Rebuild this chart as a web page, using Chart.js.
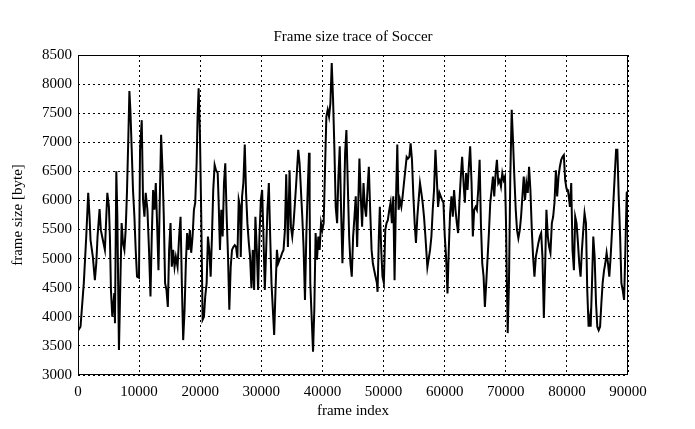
<!DOCTYPE html>
<html>
<head>
<meta charset="utf-8">
<script src="https://cdn.jsdelivr.net/npm/chart.js@4.4.1/dist/chart.umd.min.js"></script>
<style>
  body { margin: 0; background: #fff; }
  #box { width: 695px; height: 429px; }
</style>
</head>
<body>
<div id="box"><canvas id="chart" width="695" height="429"></canvas></div>
<script>
// frame index / frame size pairs
const frameIndex = [
  0, 410, 950, 1350, 1670, 1890, 2050, 2430, 2760, 2990, 3200, 3530, 3740, 4070, 4400, 4630, 4800, 5060, 5220, 5390,
  5610, 5940, 6050, 6270, 6440, 6700, 6930, 7140, 7360, 7590, 7800, 8010, 8240, 8410, 8570, 8790, 9000, 9230, 9440, 9660,
  9980, 10150, 10430, 10640, 10870, 11080, 11360, 11620, 11860, 12070, 12290, 12510, 12730, 12940, 13170, 13380, 13600, 13830, 14040, 14250,
  14480, 14700, 14910, 15140, 15350, 15570, 15800, 16010, 16290, 16550, 16780, 16990, 17210, 17440, 17650, 17860, 18090, 18310, 18520, 18750,
  18970, 19180, 19410, 19570, 19740, 19950, 20170, 20390, 20610, 20820, 21050, 21260, 21480, 21710, 21920, 22130, 22360, 22580, 22860, 23020,
  23230, 23450, 23670, 23890, 24100, 24330, 24550, 24760, 24990, 25200, 25420, 25650, 25860, 26080, 26300, 26520, 26630, 26850, 27060, 27290,
  27500, 27720, 27950, 28160, 28380, 28600, 28820, 29030, 29260, 29470, 29690, 29920, 30130, 30350, 30570, 30790, 31000, 31230, 31450, 31660,
  31890, 32100, 32320, 32550, 32760, 32970, 33200, 33410, 33630, 33860, 34070, 34350, 34620, 34840, 35060, 35270, 35500, 35710, 36040, 36260,
  36480, 36700, 36910, 37140, 37360, 37570, 37800, 37900, 38010, 38230, 38460, 38670, 38880, 39110, 39330, 39540, 39770, 39980, 40200, 40430,
  40640, 40860, 41080, 41300, 41520, 41740, 41960, 42170, 42400, 42610, 42830, 43050, 43270, 43480, 43710, 43920, 44140, 44370, 44580, 44800,
  45020, 45240, 45450, 45680, 45820, 46050, 46270, 46490, 46720, 46930, 47140, 47370, 47590, 47810, 48040, 48250, 48470, 48690, 48910, 49020,
  49230, 49390, 49620, 49830, 50050, 50280, 50490, 50700, 50940, 51150, 51360, 51590, 51800, 52020, 52250, 52460, 52680, 52910, 53120, 53340,
  53560, 53780, 53990, 54220, 54430, 54650, 54880, 55090, 55300, 55530, 55740, 55960, 56190, 56400, 56620, 56850, 57170, 57610, 57830, 58050,
  58260, 58490, 58700, 58920, 59150, 59360, 59570, 59800, 60020, 60230, 60460, 60670, 60890, 61110, 61330, 61540, 61770, 61990, 62200, 62430,
  62640, 62860, 63090, 63300, 63510, 63740, 63950, 64170, 64400, 64610, 64830, 65060, 65270, 65490, 65720, 65930, 66150, 66370, 66580, 66800,
  67030, 67240, 67460, 67680, 67900, 68110, 68340, 68550, 68770, 69000, 69210, 69430, 69660, 69870, 70040, 70200, 70310, 70520, 70740, 70970,
  71180, 71400, 71630, 71840, 72060, 72290, 72500, 72720, 72940, 73150, 73370, 73600, 73810, 74030, 74260, 74470, 74690, 74920, 75130, 75340,
  75570, 75790, 76000, 76230, 76440, 76650, 76880, 77100, 77310, 77540, 77750, 77970, 78200, 78410, 78630, 78850, 79070, 79290, 79500, 79720,
  79940, 80160, 80380, 80490, 80710, 80920, 81150, 81360, 81580, 81810, 82020, 82240, 82460, 82680, 82890, 83120, 83330, 83550, 83780, 83890,
  84110, 84320, 84540, 84770, 84980, 85200, 85430, 85640, 85850, 86080, 86290, 86500, 86730, 86940, 87160, 87390, 87600, 87820, 88050, 88260,
  88480, 88710, 88920, 89130, 89360, 89570, 89790, 89900
];
const frameSize = [
  3760, 3830, 4580, 5380, 6130, 5720, 5320, 5030, 4630, 4920, 5380, 5850, 5490, 5320, 5150, 5720, 6130, 5890, 5380, 4460,
  4000, 4410, 3890, 6500, 5720, 3430, 4580, 5610, 5270, 5150, 5490, 6130, 7100, 7880, 7560, 6870, 6180, 5720, 5150, 4690,
  4670, 6870, 7380, 6010, 5720, 6130, 5840, 5150, 4350, 5380, 6180, 5840, 6300, 5610, 4800, 6010, 7130, 6520, 5720, 4580,
  4460, 4170, 5150, 5610, 4860, 5150, 4860, 5030, 4860, 5380, 5720, 4580, 3600, 4120, 4920, 5440, 5150, 5490, 5100, 5380,
  5840, 5960, 6640, 7440, 7930, 7160, 5720, 3950, 4000, 4350, 4580, 5380, 5150, 4690, 5380, 6180, 6610, 6520, 6470, 5960,
  5150, 5840, 5380, 6300, 6640, 5720, 5030, 4120, 4860, 5150, 5200, 5230, 5200, 5010, 6010, 5890, 5030, 6070, 6300, 6960,
  6130, 5610, 5270, 5030, 4490, 5150, 4460, 5720, 5150, 4460, 5380, 6010, 6180, 5380, 4460, 5150, 5840, 6300, 5380, 4580,
  4120, 3690, 4460, 5150, 4920, 4980, 5030, 5100, 5150, 5490, 6450, 5200, 6520, 5550, 5380, 5610, 5960, 6300, 6870, 6640,
  6180, 5720, 5200, 4290, 5380, 6130, 6820, 6010, 4580, 4000, 3400, 4120, 5440, 4980, 5380, 5150, 5610, 5490, 5610, 6580,
  7440, 7560, 7440, 7670, 8360, 7730, 6870, 5890, 5610, 6410, 6930, 5840, 4920, 5720, 6820, 7210, 6300, 5380, 4920, 4690,
  5380, 5720, 6070, 5200, 5780, 6720, 6070, 5550, 6300, 5890, 5720, 6180, 6580, 5840, 5150, 4920, 4800, 4690, 4580, 4430,
  5380, 5890, 5150, 4690, 4580, 5490, 5610, 5660, 5840, 5960, 5610, 6070, 4630, 5960, 6960, 5840, 6010, 5890, 6070, 6300,
  6520, 6750, 6720, 6750, 6980, 6700, 6070, 5610, 5270, 5720, 6010, 6300, 6130, 5960, 5720, 5380, 4850, 5150, 5380, 5840,
  6180, 6870, 6410, 5890, 6130, 6070, 6010, 5960, 5380, 5030, 4400, 5150, 5780, 6070, 5720, 6180, 5840, 5610, 5440, 6010,
  6410, 6750, 6300, 5960, 6470, 6180, 6580, 6930, 6300, 5380, 5840, 5890, 5840, 6180, 6700, 5610, 4920, 4690, 4170, 4580,
  5030, 5440, 5960, 6180, 6410, 6070, 6470, 6700, 6300, 6350, 6240, 6470, 6350, 6410, 5610, 4460, 3720, 4580, 6410, 7560,
  7040, 6410, 5840, 5490, 5350, 5490, 5720, 6070, 6410, 6010, 6300, 6130, 6580, 6180, 5490, 5030, 4690, 5030, 5150, 5270,
  5380, 5440, 5030, 3980, 4860, 5840, 5380, 5200, 5100, 5610, 5720, 5960, 6520, 6070, 6410, 6580, 6700, 6750, 6780, 6350,
  6200, 6180, 6010, 5890, 6300, 5150, 4800, 5720, 5610, 5270, 4920, 4690, 5150, 5490, 5780, 5610, 4460, 3830, 4000, 3830,
  4580, 5380, 5030, 4230, 3830, 3770, 3830, 4230, 4580, 4800, 4920, 5100, 4920, 4690, 5030, 5490, 5960, 6410, 6870, 6870,
  6070, 5380, 4580, 4460, 4290, 5150, 6130, 6150
];
const xTicks = [0, 10000, 20000, 30000, 40000, 50000, 60000, 70000, 80000, 90000];
const yTicks = [3000, 3500, 4000, 4500, 5000, 5500, 6000, 6500, 7000, 7500, 8000, 8500];

const FONT = { family: "'Liberation Serif', 'DejaVu Serif', serif", size: 15, weight: 'normal' };

// solid frame round the plot area
const frameBorder = {
  id: 'frameBorder',
  afterDatasetsDraw(chart) {
    const { ctx, chartArea: a } = chart;
    ctx.save();
    ctx.strokeStyle = '#000';
    ctx.lineWidth = 1;
    ctx.strokeRect(Math.round(a.left) + 0.5, Math.round(a.top) + 0.5,
      Math.round(a.width) - 1, Math.round(a.height) - 1);
    ctx.restore();
  }
};

new Chart(document.getElementById('chart'), {
  type: 'line',
  data: {
    datasets: [{
      data: frameIndex.map((x, i) => ({ x: x, y: frameSize[i] })),
      borderColor: '#000',
      borderWidth: 2,
      pointRadius: 0,
      tension: 0,
      fill: false
    }]
  },
  options: {
    responsive: false,
    animation: false,
    layout: { padding: { right: 67 } },
    plugins: {
      legend: { display: false },
      tooltip: { enabled: false },
      title: {
        display: true,
        text: 'Frame size trace of Soccer',
        fullSize: false,
        color: '#000',
        font: FONT,
        padding: { top: 28, bottom: 9 }
      }
    },
    scales: {
      x: {
        type: 'linear',
        min: 0,
        max: 90000,
        afterFit: s => { s.height = 54; },
        afterBuildTicks: s => { s.ticks = xTicks.map(v => ({ value: v })); },
        ticks: { color: '#000', font: FONT, padding: 8, maxRotation: 0, autoSkip: false, callback: v => String(v) },
        grid: { color: '#000', lineWidth: 1, drawTicks: false },
        border: { display: false, dash: [2, 3] },
        title: { display: true, text: 'frame index', color: '#000', font: FONT, padding: { top: 0, bottom: 9 } }
      },
      y: {
        min: 3000,
        max: 8500,
        afterFit: s => { s.width = 78; },
        afterBuildTicks: s => { s.ticks = yTicks.map(v => ({ value: v })); },
        ticks: { color: '#000', font: FONT, padding: 6, autoSkip: false, callback: v => String(v) },
        grid: { color: '#000', lineWidth: 1, drawTicks: false },
        border: { display: false, dash: [2, 3] },
        title: { display: true, text: 'frame size [byte]', color: '#000', font: FONT, padding: { top: 9, bottom: 0 } }
      }
    }
  },
  plugins: [frameBorder]
});
</script>
</body>
</html>
